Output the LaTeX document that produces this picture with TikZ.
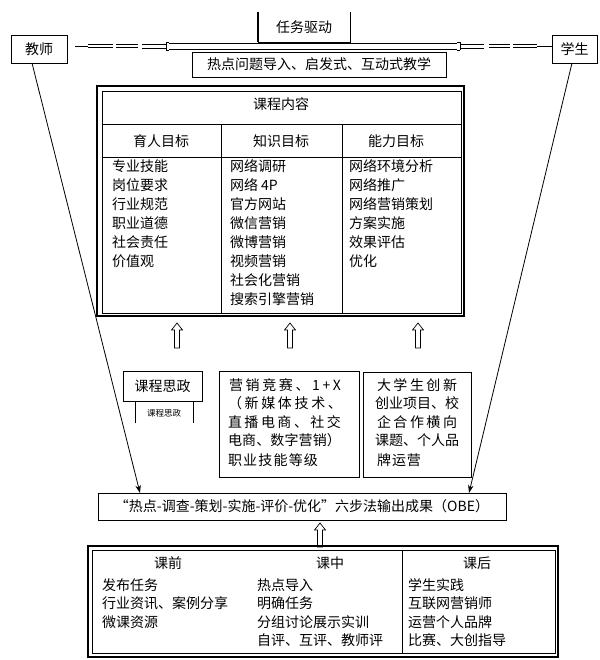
\documentclass[tikz,border=0pt]{standalone}
\usepackage{fontspec}
\setmainfont{Noto Sans CJK SC}
\usetikzlibrary{arrows.meta}
\makeatletter
\newcommand\spreadline[2]{\makebox[#1][s]{\@tfor\spr@c:=#2\do{\spr@c\hfil}\unskip}}
\makeatother
\newcommand\upholl[3]{%
  \draw[line width=0.7pt] (#1,#2) ++(-2.5,0) -- ++(0,{-(#3-7)}) -- ++(-3,0) -- ++(5.5,-7) -- ++(5.5,7) -- ++(-3,0) -- ++(0,{#3-7}) -- cycle;}
\begin{document}
\begin{tikzpicture}[x=1pt,y=-1pt,
  every node/.style={inner sep=0pt, outer sep=0pt},
  txt/.style={font=\fontsize{14}{19}\selectfont},
  smalltxt/.style={font=\fontsize{8.5}{10}\selectfont},
  box/.style={draw, line width=0.8pt, rectangle, txt},
  thinl/.style={line width=0.7pt},
  thickl/.style={line width=1.5pt},
  arr/.style={line width=0.8pt, -{Stealth[length=8pt,width=5.5pt]}}]
\fill[white] (0,0) rectangle (599,660);
\useasboundingbox (0,0) rectangle (599,660);

% ---------- top row ----------
\draw[thickl] (258,12) -- (258,42);
\draw[thinl] (258,42) -- (350,42) -- (350,12);
\node[txt] (task) at (304,27) {任务驱动};
\node[box, minimum width=56pt, minimum height=28pt, anchor=north west] (teacher) at (11,35) {教师};
\node[box, minimum width=45pt, minimum height=28pt, anchor=north west] (student) at (552,35) {学生};
\node[box, minimum width=254pt, minimum height=25pt, anchor=north west] (hot) at (192,52) {热点问题导入、启发式、互动式教学};

% double connector teacher -- student
\coordinate (dlL) at ([xshift=8pt,yshift=3pt]teacher.east);
\coordinate (dlR) at ([yshift=3pt]student.west);
\draw[thinl] (dlL) -- ++(13,0);
\draw[thinl] (88,44.5) -- (113,44.5) (88,47.5) -- (113,47.5);
\draw[thinl] (116,44.5) -- (138,44.5) (116,47.5) -- (138,47.5);
\draw[thinl] (142,44) -- (166,44) (142,48.5) -- (166,48.5);
\draw[thinl] (166,42.5) -- (166,50) (166,42.5) -- (169,42.5) (166,50) -- (169,50);
\draw[thinl] (169,43) -- (457,43) (169,49.5) -- (457,49.5);
\draw[thinl] (460,42.5) -- (460,50) (457,42.5) -- (460,42.5) (457,50) -- (460,50);
\draw[thinl] (460,44) -- (484,44) (460,48.5) -- (484,48.5);
\draw[thinl] (489,44.5) -- (510,44.5) (489,47.5) -- (510,47.5);
\draw[thinl] (513,44.5) -- (537,44.5) (513,47.5) -- (537,47.5);
\draw[thinl] (537,46) -- (dlR);

% ---------- course content table ----------
\draw[thickl] (97,86) rectangle (464,316);
\draw[thinl] (102,91) rectangle (461,313);
\draw[thinl] (102,124) -- (461,124) (102,157) -- (461,157);
\draw[thinl] (221,124) -- (221,313) (342,124) -- (342,313);
\node[txt] (title) at (281,104) {课程内容};
\node[txt] (h1) at (161,141) {育人目标};
\node[txt] (h2) at (281,141) {知识目标};
\node[txt] (h3) at (396,141) {能力目标};
\foreach \t [count=\i] in {专业技能,岗位要求,行业规范,职业道德,社会责任,价值观}
  \node[txt, anchor=base west] (a\i) at (112,{152.3+19*\i}) {\t};
\foreach \t [count=\i] in {网络调研,网络 4P,官方网站,微信营销,微博营销,视频营销,社会化营销,搜索引擎营销}
  \node[txt, anchor=base west] (b\i) at (230,{152.3+19*\i}) {\t};
\foreach \t [count=\i] in {网络环境分析,网络推广,网络营销策划,方案实施,效果评估,优化}
  \node[txt, anchor=base west] (c\i) at (349,{152.3+19*\i}) {\t};

% ---------- lower three boxes ----------
\node[box, minimum width=79pt, minimum height=30pt, anchor=north west] (ideo) at (123,371) {课程思政};
\draw[thinl] (135,401) -- (135,423) (193,401) -- (193,423);
\node[smalltxt] (ideo2) at (164,413) {课程思政};

\node[draw, line width=0.8pt, minimum width=140pt, minimum height=106pt, anchor=north west] (comp) at (219,371) {};
\node[txt, anchor=base west] (d1) at (229,390.3) {\spreadline{112pt}{营销竞赛、1+X}};
\node[txt, anchor=base west] (d2) at (228,408.3) {\spreadline{114pt}{（新媒体技术、}};
\node[txt, anchor=base west] (d3) at (228,427.3) {\spreadline{113pt}{直播电商、社交}};
\node[txt, anchor=base west] (d4) at (228,445.3) {\spreadline{113pt}{电商、数字营销）}};
\node[txt, anchor=base west] (d5) at (228,465.3) {\spreadline{90pt}{职业技能等级}};

\node[draw, line width=0.8pt, minimum width=108pt, minimum height=105pt, anchor=north west] (innov) at (363,372) {};
\node[txt, anchor=base west] (e1) at (377,390.3) {\spreadline{80pt}{大学生创新}};
\node[txt, anchor=base west] (e2) at (375,408.3) {\spreadline{82pt}{创业项目、校}};
\node[txt, anchor=base west] (e3) at (377,427.3) {\spreadline{80pt}{企合作横向}};
\node[txt, anchor=base west] (e4) at (375,445.3) {\spreadline{82pt}{课题、个人品}};
\node[txt, anchor=base west] (e5) at (377,465.3) {\spreadline{44pt}{牌运营}};

% hollow arrows up to the table
\upholl{177}{348}{25}
\upholl{290}{348}{25}
\upholl{418}{348}{25}

% ---------- OBE box ----------
\node[box, minimum width=408pt, minimum height=27pt, anchor=north west] (obe) at (98,493) {“热点-调查-策划-实施-评价-优化”六步法输出成果（OBE）};

\draw[arr] ([xshift=-7pt]teacher.south) -- ([xshift=42pt]obe.north west);
\draw[arr] ([xshift=-2.5pt]student.south) -- ([xshift=-37pt]obe.north east);

\upholl{320}{547}{24}

% ---------- bottom box ----------
\draw[thickl] (88,546) rectangle (558,657);
\draw[thinl] (92,550) rectangle (555,653);
\draw[thinl] (402,550) -- (402,653);
\node[txt] (f0) at (168,563) {课前};
\node[txt] (g0) at (330,563) {课中};
\node[txt] (k0) at (477,563) {课后};
\foreach \t/\yy [count=\i] in {发布任务/590,行业资讯、案例分享/608,微课资源/627}
  \node[txt, anchor=base west] (f\i) at (102,\yy) {\t};
\foreach \t/\yy [count=\i] in {热点导入/590,明确任务/608,分组讨论展示实训/627,自评、互评、教师评/645}
  \node[txt, anchor=base west] (g\i) at (257,\yy) {\t};
\foreach \t/\yy [count=\i] in {学生实践/590,互联网营销师/608,运营个人品牌/627,比赛、大创指导/645}
  \node[txt, anchor=base west] (k\i) at (408,\yy) {\t};
\end{tikzpicture}
\end{document}
